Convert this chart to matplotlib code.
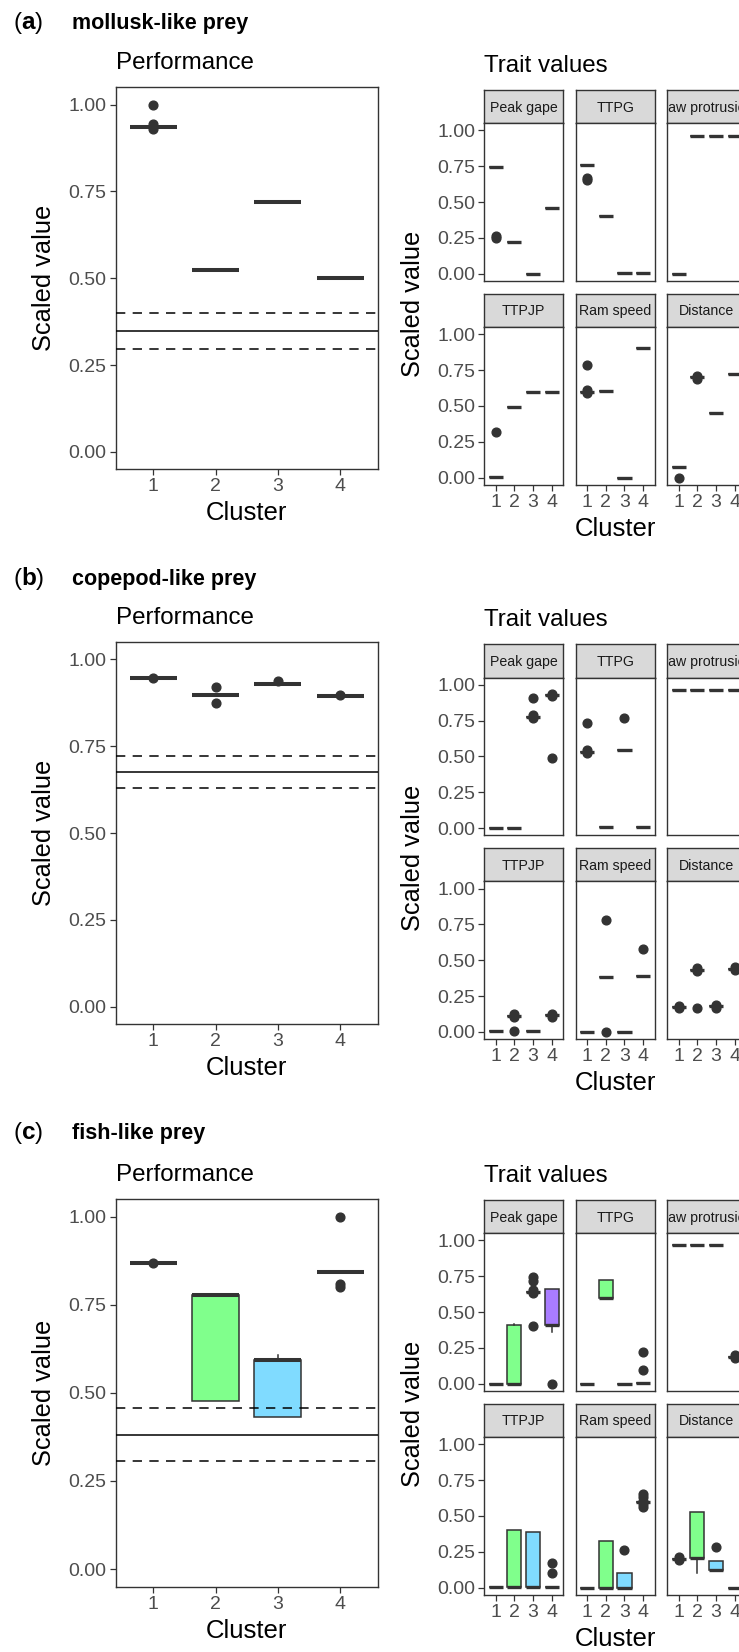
import matplotlib.pyplot as plt

plt.rcParams['font.family'] = ['Liberation Sans', 'DejaVu Sans']
plt.rcParams['mathtext.fontset'] = 'custom'
plt.rcParams['mathtext.rm'] = 'Liberation Sans'
plt.rcParams['mathtext.bf'] = 'Liberation Sans:bold'
plt.rcParams['lines.scale_dashes'] = False

W, H = 739, 1652

clusters = [1, 2, 3, 4]
trait_names = ['Peak gape', 'TTPG', 'Jaw protrusion', 'TTPJP', 'Ram speed', 'Distance']
cluster_fills = ['#FF8A80', '#80FF8C', '#80DBFF', '#A97CFF']
y_ticks = [0, 0.25, 0.5, 0.75, 1.0]
y_ticklabels = ['0.00', '0.25', '0.50', '0.75', '1.00']

# one entry per cluster: (median, outliers) or (q1, median, q3, whisker_lo, whisker_hi, outliers)

# (a) mollusk-like prey
mollusk_perf = [(0.935, [1.0, 0.945, 0.93]), (0.525, []), (0.72, []), (0.50, [])]
mollusk_ref = [0.297, 0.349, 0.400]  # lower CI, mean, upper CI
mollusk_traits = [
    [(0.745, [0.265, 0.25]), (0.225, []), (0.0, []), (0.46, [])],
    [(0.76, [0.67, 0.655]), (0.405, []), (0.005, []), (0.005, [])],
    [(0.0, []), (0.96, []), (0.96, []), (0.96, [])],
    [(0.005, [0.32]), (0.49, []), (0.60, []), (0.595, [])],
    [(0.60, [0.785, 0.61, 0.59]), (0.605, []), (0.0, []), (0.905, [])],
    [(0.075, [0.0]), (0.70, [0.71, 0.69]), (0.45, []), (0.725, [])],
]

# (b) copepod-like prey
copepod_perf = [(0.945, [0.945]), (0.898, [0.92, 0.875]), (0.929, [0.936]), (0.894, [0.896])]
copepod_ref = [0.629, 0.676, 0.722]
copepod_traits = [
    [(0.0, []), (0.0, []), (0.776, [0.905, 0.786, 0.768]), (0.928, [0.492, 0.938, 0.92])],
    [(0.534, [0.73, 0.544, 0.526]), (0.005, []), (0.548, [0.765]), (0.005, [])],
    [(0.965, []), (0.965, []), (0.965, []), (0.965, [])],
    [(0.005, []), (0.112, [0.122, 0.104, 0.005]), (0.005, []), (0.115, [0.124, 0.107])],
    [(0.0, []), (0.38, [0.783, 0.0]), (0.0, []), (0.387, [0.578])],
    [(0.175, [0.184, 0.167]), (0.434, [0.444, 0.426, 0.168]), (0.178, [0.186, 0.17]), (0.44, [0.45, 0.432])],
]

# (c) fish-like prey
fish_perf = [(0.868, [0.868]), (0.476, 0.777, 0.777, 0.476, 0.777, []),
             (0.431, 0.593, 0.593, 0.431, 0.608, []), (0.842, [1.0, 0.81, 0.80])]
fish_ref = [0.307, 0.381, 0.456]
fish_traits = [
    [(0.0, []), (0.0, 0.0, 0.407, 0.0, 0.42, []), (0.644, [0.742, 0.714, 0.654, 0.636, 0.40]),
     (0.41, 0.41, 0.661, 0.365, 0.661, [0.0])],
    [(0.0, []), (0.598, 0.598, 0.726, 0.598, 0.726, []), (0.0, []), (0.005, [0.225, 0.093])],
    [(0.965, []), (0.965, []), (0.965, []), (0.19, [0.2, 0.18])],
    [(0.005, []), (0.005, 0.005, 0.402, 0.005, 0.402, []), (0.005, 0.005, 0.39, 0.005, 0.39, []),
     (0.005, [0.175, 0.102])],
    [(0.0, []), (0.0, 0.0, 0.325, 0.0, 0.325, []), (0.0, 0.0, 0.102, 0.0, 0.102, [0.26]),
     (0.596, [0.655, 0.63, 0.605, 0.585, 0.56])],
    [(0.203, [0.212, 0.195]), (0.21, 0.21, 0.53, 0.10, 0.53, []), (0.126, 0.126, 0.185, 0.126, 0.185, [0.285]),
     (0.0, [])],
]

rows = [
    dict(tag='a', name='mollusk-like prey', base=28.5, perf_y=(87.3, 469.3), trait_top=90,
         perf=mollusk_perf, ref=mollusk_ref, traits=mollusk_traits),
    dict(tag='b', name='copepod-like prey', base=585, perf_y=(641.7, 1024.3), trait_top=644.3,
         perf=copepod_perf, ref=copepod_ref, traits=copepod_traits),
    dict(tag='c', name='fish-like prey', base=1138.5, perf_y=(1199, 1586.7), trait_top=1200,
         perf=fish_perf, ref=fish_ref, traits=fish_traits),
]

DARK = '#333333'
TICKCOL = '#4d4d4d'
perf_x = (115.7, 377.7)
facet_lefts = [484.3, 575.7, 667.3]
facet_w = 78.8
strip_h, panel_h, row_gap = 33.3, 157.7, 12.8


def rect(x0, y0, x1, y1):
    return [x0 / W, 1 - y1 / H, (x1 - x0) / W, (y1 - y0) / H]


def to_stats(entries):
    out = []
    for e in entries:
        if len(e) == 2:
            m, fl = e
            out.append(dict(med=m, q1=m, q3=m, whislo=m, whishi=m, fliers=fl))
        else:
            q1, m, q3, lo, hi, fl = e
            out.append(dict(med=m, q1=q1, q3=q3, whislo=lo, whishi=hi, fliers=fl))
    return out


def draw_boxes(ax, entries, med_lw, ms):
    bp = ax.bxp(to_stats(entries), positions=clusters, widths=0.75, patch_artist=True,
                showcaps=False,
                boxprops=dict(edgecolor=DARK, linewidth=1.1),
                whiskerprops=dict(color=DARK, linewidth=1.1),
                medianprops=dict(color=DARK, linewidth=med_lw, solid_capstyle='butt'),
                flierprops=dict(marker='o', markerfacecolor=DARK, markeredgecolor=DARK,
                                markersize=ms))
    for patch, c in zip(bp['boxes'], cluster_fills):
        patch.set_facecolor(c)


def style(ax, show_x=True, show_y=True):
    ax.set_xlim(0.4, 4.6)
    ax.set_ylim(-0.05, 1.05)
    ax.set_xticks(clusters)
    ax.set_xticklabels([str(c) for c in clusters])
    ax.set_yticks(y_ticks)
    ax.set_yticklabels(y_ticklabels)
    for s in ax.spines.values():
        s.set_color(DARK)
        s.set_linewidth(1.0)
    ax.tick_params(length=4, width=0.9, color=DARK, labelcolor=TICKCOL, labelsize=14, pad=2.5)
    ax.tick_params(axis='x', bottom=show_x, labelbottom=show_x)
    ax.tick_params(axis='y', left=show_y, labelleft=show_y)


fig = plt.figure(figsize=(W / 100, H / 100), dpi=100)

for row in rows:
    # panel tag and prey name
    fig.text(13 / W, 1 - row['base'] / H, r'($\mathbf{%s}$)' % row['tag'], fontsize=17.5,
             va='baseline', ha='left')
    fig.text(72 / W, 1 - row['base'] / H, row['name'], fontsize=15.5, fontweight='bold',
             va='baseline', ha='left')

    # performance panel
    top, bot = row['perf_y']
    ax = fig.add_axes(rect(perf_x[0], top, perf_x[1], bot))
    draw_boxes(ax, row['perf'], 2.9, 6.3)
    lo, mean, hi = row['ref']
    ax.axhline(mean, color='black', lw=1.1, zorder=4)
    for v in (lo, hi):
        ax.axhline(v, color='black', lw=1.1, dashes=(6.7, 5.3), zorder=4)
    style(ax)
    fig.text(perf_x[0] / W, 1 - (top - 18) / H, 'Performance', fontsize=17.4, va='baseline')
    fig.text(44 / W, 1 - (top + bot) / 2 / H, 'Scaled value', fontsize=18.3, rotation=90,
             va='center', ha='center')
    fig.text((perf_x[0] + perf_x[1]) / 2 / W, 1 - (bot + 51) / H, 'Cluster', fontsize=18.5,
             va='baseline', ha='center')

    # trait facets, 2 rows x 3 cols
    t0 = row['trait_top']
    for k, (tname, tdata) in enumerate(zip(trait_names, row['traits'])):
        r, c = divmod(k, 3)
        s_top = t0 + r * (strip_h + panel_h + row_gap)
        p_top = s_top + strip_h
        p_bot = p_top + panel_h
        x0 = facet_lefts[c]
        sax = fig.add_axes(rect(x0, s_top, x0 + facet_w, p_top))
        sax.set_facecolor('#d9d9d9')
        sax.set_xticks([])
        sax.set_yticks([])
        for s in sax.spines.values():
            s.set_color(DARK)
            s.set_linewidth(1.0)
        sax.text(0.5, 0.47, tname, transform=sax.transAxes, ha='center', va='center',
                 fontsize=10.2, color='#1a1a1a', clip_on=True)
        ax = fig.add_axes(rect(x0, p_top, x0 + facet_w, p_bot))
        draw_boxes(ax, tdata, 2.4, 6.3)
        style(ax, show_x=(r == 1), show_y=(c == 0))

    panels_top = t0 + strip_h
    panels_bot = t0 + 2 * (strip_h + panel_h) + row_gap
    fig.text(facet_lefts[0] / W, 1 - (t0 - 18) / H, 'Trait values', fontsize=17.4, va='baseline')
    fig.text(413 / W, 1 - (panels_top + panels_bot) / 2 / H, 'Scaled value', fontsize=18.3,
             rotation=90, va='center', ha='center')
    mid_x = (facet_lefts[0] + facet_lefts[2] + facet_w) / 2
    fig.text(mid_x / W, 1 - (panels_bot + 51) / H, 'Cluster', fontsize=18.5,
             va='baseline', ha='center')

fig.savefig('out.png', dpi=100, facecolor='white')
